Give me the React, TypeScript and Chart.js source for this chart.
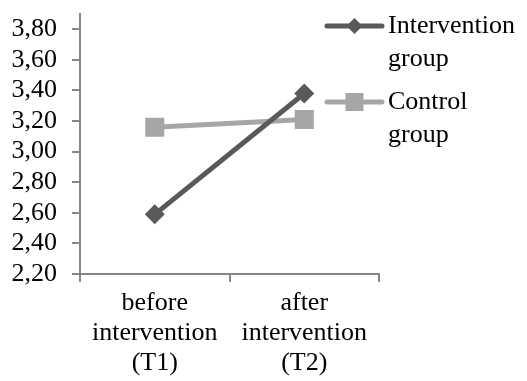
import React, { useEffect, useRef } from "react";
import { Chart, registerables } from "chart.js";

Chart.register(...registerables);

const categories: string[][] = [
  ["before", "intervention", "(T1)"],
  ["after", "intervention", "(T2)"],
];
const interventionValues = [2.59, 3.38];
const controlValues = [3.16, 3.21];
const legendLabels: string[][] = [
  ["Intervention", "group"],
  ["Control", "group"],
];
const yTickValues = [2.2, 2.4, 2.6, 2.8, 3.0, 3.2, 3.4, 3.6, 3.8];
const yMin = 2.2;
const yMax = 3.9;

const FONT = "'Liberation Serif', 'Times New Roman', serif";
const AXIS = "#868686";
const DARK = "#595959";
const LIGHT = "#a6a6a6";

const legendPlugin = {
  id: "customLegend",
  afterDraw(chart: any) {
    const ctx = chart.ctx as CanvasRenderingContext2D;
    const area = chart.chartArea;
    const x0 = area.right - 52;
    const x1 = area.right + 3;
    const tx = area.right + 9;
    const rows = [26, 102];
    ctx.save();
    chart.data.datasets.forEach((ds: any, i: number) => {
      const y = rows[i];
      ctx.strokeStyle = ds.borderColor;
      ctx.lineWidth = 5;
      ctx.lineCap = "round";
      ctx.beginPath();
      ctx.moveTo(x0, y);
      ctx.lineTo(x1, y);
      ctx.stroke();
      const cx = (x0 + x1) / 2;
      ctx.fillStyle = ds.backgroundColor;
      ctx.beginPath();
      if (ds.pointStyle === "rectRot") {
        const r = 8;
        ctx.moveTo(cx - r, y);
        ctx.lineTo(cx, y - r);
        ctx.lineTo(cx + r, y);
        ctx.lineTo(cx, y + r);
        ctx.closePath();
      } else {
        ctx.rect(cx - 9, y - 9, 18, 18);
      }
      ctx.fill();
      ctx.fillStyle = "#000";
      ctx.font = `26px ${FONT}`;
      ctx.textAlign = "left";
      ctx.textBaseline = "middle";
      legendLabels[i].forEach((t, j) => {
        ctx.fillText(t, tx, y + j * 33);
      });
    });
    ctx.restore();
  },
};

export default function App() {
  const ref = useRef<HTMLCanvasElement | null>(null);
  useEffect(() => {
    if (!ref.current) return;
    const chart = new Chart(ref.current, {
      type: "line",
      data: {
        labels: categories as any,
        datasets: [
          {
            label: "Intervention group",
            data: interventionValues,
            borderColor: DARK,
            backgroundColor: DARK,
            borderWidth: 5,
            pointStyle: "rectRot",
            pointRadius: 10,
            pointBorderWidth: 0,
          },
          {
            label: "Control group",
            data: controlValues,
            borderColor: LIGHT,
            backgroundColor: LIGHT,
            borderWidth: 5,
            pointStyle: "rect",
            pointRadius: 13.5,
            pointBorderWidth: 0,
          },
        ],
      },
      options: {
        animation: false,
        responsive: true,
        maintainAspectRatio: false,
        layout: { padding: { top: 14, right: 148, left: 0, bottom: 0 } },
        plugins: {
          legend: { display: false },
          tooltip: { enabled: false },
        },
        scales: {
          x: {
            type: "category",
            offset: true,
            afterFit: (s: any) => {
              s.height = 107;
            },
            grid: {
              offset: true,
              drawOnChartArea: false,
              drawTicks: true,
              tickLength: 8,
              color: AXIS,
              lineWidth: 2,
            },
            border: { color: AXIS, width: 2 },
            ticks: {
              color: "#000",
              font: { family: FONT, size: 26, lineHeight: 1.15 },
              padding: 6,
              maxRotation: 0,
              autoSkip: false,
            },
          },
          y: {
            min: yMin,
            max: yMax,
            afterFit: (s: any) => {
              s.width = 80;
              s.paddingTop = 0;
              s.paddingBottom = 0;
            },
            afterBuildTicks: (s: any) => {
              s.ticks = yTickValues.map((v) => ({ value: v }));
            },
            grid: {
              drawOnChartArea: false,
              drawTicks: true,
              tickLength: 8,
              color: AXIS,
              lineWidth: 2,
            },
            border: { color: AXIS, width: 2 },
            ticks: {
              color: "#000",
              font: { family: FONT, size: 26 },
              padding: 15,
              autoSkip: false,
              callback: (v: any) => Number(v).toFixed(2).replace(".", ","),
            },
          },
        },
      },
      plugins: [legendPlugin],
    });
    return () => chart.destroy();
  }, []);
  return (
    <div style={{ position: "fixed", left: 0, top: 0, width: 527, height: 381, background: "#fff" }}>
      <canvas ref={ref} />
    </div>
  );
}
